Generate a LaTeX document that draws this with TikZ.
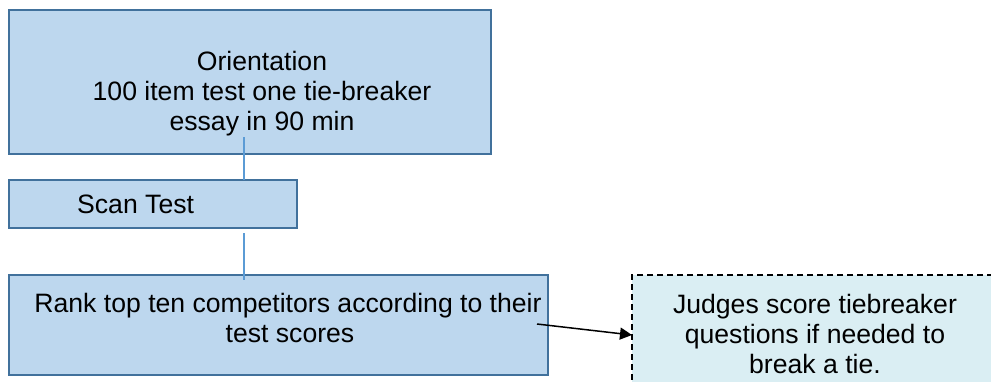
\documentclass[tikz,border=0pt]{standalone}
\usepackage{fontspec}
\setmainfont{Liberation Sans}
\definecolor{boxfill}{HTML}{BDD7EE}
\definecolor{boxline}{HTML}{41719C}
\definecolor{connline}{HTML}{5B9BD5}
\definecolor{tiefill}{HTML}{DAEEF3}
\usetikzlibrary{arrows.meta}
\begin{document}
\begin{tikzpicture}[x=1pt,y=-1pt,
  stagebox/.style={draw=boxline,fill=boxfill,line width=2.5pt,inner sep=0pt,outer sep=0pt},
  tiebox/.style={draw=black,fill=tiefill,line width=1.3pt,dash pattern=on 6pt off 4pt,inner sep=0pt,outer sep=0pt},
  txt/.style={font=\fontsize{26.6}{30}\selectfont,inner sep=0pt,anchor=base,align=center},
  conn/.style={draw=connline,line width=1.2pt},
  arr/.style={draw=black,line width=1.5pt,-{Triangle[length=12pt,width=12pt]}}]
\useasboundingbox (0,0) rectangle (991,381);
\fill[white] (0,0) rectangle (991,381);
% boxes
\node[stagebox,minimum width=482pt,minimum height=144pt] (orientbox) at (250,82) {};
\node[stagebox,minimum width=288pt,minimum height=48pt] (scanbox) at (153,204) {};
\node[stagebox,minimum width=539pt,minimum height=100pt] (rankbox) at (278.5,325) {};
\node[tiebox,minimum width=378pt,minimum height=125pt] (tiebox) at (821,337.5) {};
% texts
\node[txt] (orientA) at (262,70) {Orientation};
\node[txt] (orientB) at (262,100) {100 item test one tie-breaker};
\node[txt] (orientC) at (262,130) {essay in 90 min};
\node[txt,anchor=base west] (scan) at (77,213) {Scan Test};
\node[txt] (rankA) at (288,312) {Rank top ten competitors according to their};
\node[txt] (rankB) at (290,342) {test scores};
\node[txt] (judgeA) at (815,313) {Judges score tiebreaker};
\node[txt] (judgeB) at (815,343) {questions if needed to};
\node[txt] (judgeC) at (815,373) {break a tie.};
% connectors
\coordinate (c1s) at (244,137);
\coordinate (c2s) at (244,233);
\coordinate (c2e) at (244,280);
\coordinate (a1s) at (537,324);
\draw[conn] (c1s) -- (c1s |- scanbox.north);
\draw[conn] (c2s) -- (c2e);
\draw[arr] (a1s) -- (tiebox.west |- 0,335);
\end{tikzpicture}
\end{document}
